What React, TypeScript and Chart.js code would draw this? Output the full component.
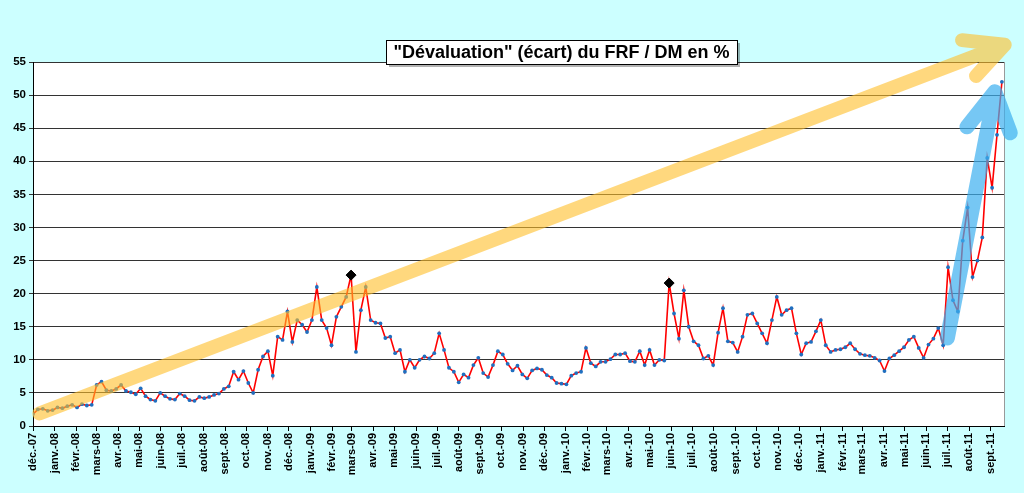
import React, { useEffect, useRef } from 'react';
import { Chart, registerables } from 'chart.js';

Chart.register(...registerables);

// axe des dates : un repère par mois, à partir du 1er décembre 2007
const monthLabels = [
    'déc.-07',
    'janv.-08', 'févr.-08', 'mars-08', 'avr.-08', 'mai-08', 'juin-08',
    'juil.-08', 'août-08', 'sept.-08', 'oct.-08', 'nov.-08', 'déc.-08',
    'janv.-09', 'févr.-09', 'mars-09', 'avr.-09', 'mai-09', 'juin-09',
    'juil.-09', 'août-09', 'sept.-09', 'oct.-09', 'nov.-09', 'déc.-09',
    'janv.-10', 'févr.-10', 'mars-10', 'avr.-10', 'mai-10', 'juin-10',
    'juil.-10', 'août-10', 'sept.-10', 'oct.-10', 'nov.-10', 'déc.-10',
    'janv.-11', 'févr.-11', 'mars-11', 'avr.-11', 'mai-11', 'juin-11',
    'juil.-11', 'août-11', 'sept.-11',
];

const START = Date.UTC(2007, 11, 1);
const DAY = 86400000;
const monthTicks = monthLabels.map((_, i) => (Date.UTC(2007, 11 + i, 1) - START) / DAY);
const lastDay = 1389;

// écart hebdomadaire en %, une valeur par semaine depuis début décembre 2007
const weekDays = 7;
const devaluation = [
    1.8, 2.5, 2.6, 2.3, 2.4, 2.8, 2.7, 3.0, 3.2, 2.8,
    3.3, 3.1, 3.2, 6.2, 6.7, 5.4, 5.3, 5.6, 6.2, 5.3,
    5.1, 4.8, 5.7, 4.5, 4.0, 3.8, 5.0, 4.5, 4.1, 4.0,
    4.9, 4.5, 3.9, 3.8, 4.4, 4.2, 4.4, 4.7, 4.9, 5.6,
    6.0, 8.2, 7.0, 8.3, 6.5, 5.0, 8.5, 10.5, 11.3, 7.6,
    13.5, 13.0, 17.3, 12.7, 16.0, 15.3, 14.2, 16.0, 21.0, 16.0,
    14.8, 12.2, 16.5, 18.0, 19.5, 22.8, 11.2, 17.5, 21.0, 16.0,
    15.6, 15.5, 13.3, 13.5, 11.0, 11.5, 8.2, 10.0, 8.8, 10.0,
    10.5, 10.2, 11.0, 14.0, 11.5, 8.8, 8.2, 6.6, 7.8, 7.3,
    9.2, 10.3, 8.0, 7.4, 9.2, 11.3, 10.8, 9.4, 8.4, 9.1,
    7.8, 7.2, 8.4, 8.7, 8.5, 7.7, 7.3, 6.5, 6.4, 6.3,
    7.6, 8.0, 8.2, 11.8, 9.5, 9.0, 9.7, 9.7, 10.1, 10.8,
    10.8, 11.0, 9.8, 9.7, 11.3, 9.2, 11.5, 9.2, 10.0, 9.9,
    21.6, 17.0, 13.2, 20.5, 15.0, 12.8, 12.2, 10.2, 10.6, 9.2,
    14.1, 17.8, 12.8, 12.6, 11.2, 13.5, 16.8, 17.0, 15.5, 14.0,
    12.5, 16.0, 19.5, 16.8, 17.5, 17.8, 14.0, 10.8, 12.5, 12.7,
    14.3, 16.0, 12.2, 11.2, 11.5, 11.6, 11.9, 12.5, 11.6, 10.9,
    10.7, 10.6, 10.3, 9.9, 8.3, 10.2, 10.7, 11.3, 11.9, 13.0,
    13.5, 11.8, 10.3, 12.3, 13.2, 14.8, 12.2, 24.0, 19.0, 17.3,
    28.0, 33.0, 22.5, 25.0, 28.5, 40.5, 36.0, 44.0, 52.0,
];

// semaines des deux pics marqués d'un losange noir
const peakWeeks = [65, 130];

const yMax = 55;
const yStep = 5;

// flèches de tendance en coordonnées des données : [jour, valeur]
const yellowArrow = { from: [9, 1.9], tip: [1390, 57.6], arms: [[1329, 58.3], [1349, 52.9]] };
const blueArrow = { from: [1308, 13.3], tip: [1376, 50.5], arms: [[1336, 45.2], [1398, 44.3]] };

const FONT = "'Liberation Sans', Arial, sans-serif";

const plotBackground = {
    id: 'plotBackground',
    beforeDraw(chart: Chart) {
        const { ctx, chartArea } = chart;
        ctx.save();
        ctx.fillStyle = '#ffffff';
        ctx.fillRect(chartArea.left, chartArea.top, chartArea.right - chartArea.left, chartArea.bottom - chartArea.top);
        ctx.restore();
    },
    afterDraw(chart: Chart) {
        const { ctx, chartArea } = chart;
        ctx.save();
        ctx.strokeStyle = '#999999';
        ctx.lineWidth = 1;
        ctx.beginPath();
        ctx.moveTo(chartArea.right + 0.5, chartArea.top);
        ctx.lineTo(chartArea.right + 0.5, chartArea.bottom);
        ctx.stroke();
        ctx.restore();
    },
};

const drawArrow = (chart: Chart, arrow: typeof yellowArrow, color: string, width: number) => {
    const { ctx } = chart;
    const x = chart.scales.x;
    const y = chart.scales.y;
    const p = (d: number[]) => [x.getPixelForValue(d[0]), y.getPixelForValue(d[1])];
    const a = p(arrow.from);
    const t = p(arrow.tip);
    const h1 = p(arrow.arms[0]);
    const h2 = p(arrow.arms[1]);
    ctx.save();
    ctx.strokeStyle = color;
    ctx.lineWidth = width;
    ctx.lineCap = 'round';
    ctx.lineJoin = 'round';
    ctx.beginPath();
    ctx.moveTo(a[0], a[1]);
    ctx.lineTo(t[0], t[1]);
    ctx.moveTo(h1[0], h1[1]);
    ctx.lineTo(t[0], t[1]);
    ctx.lineTo(h2[0], h2[1]);
    ctx.stroke();
    ctx.restore();
};

const overlay = {
    id: 'overlay',
    afterDraw(chart: Chart) {
        drawArrow(chart, yellowArrow, 'rgba(255, 190, 40, 0.6)', 14);
        drawArrow(chart, blueArrow, 'rgba(60, 175, 240, 0.7)', 15);

        // titre encadré avec ombre
        const { ctx } = chart;
        const bx = 386;
        const by = 40;
        const bw = 351;
        const bh = 24;
        ctx.save();
        ctx.fillStyle = 'rgba(0, 0, 0, 0.3)';
        ctx.fillRect(bx + 3, by + 3, bw, bh);
        ctx.fillStyle = '#ffffff';
        ctx.fillRect(bx, by, bw, bh);
        ctx.strokeStyle = '#000000';
        ctx.lineWidth = 1;
        ctx.strokeRect(bx + 0.5, by + 0.5, bw, bh);
        ctx.fillStyle = '#000000';
        ctx.font = `bold 18px ${FONT}`;
        ctx.textAlign = 'center';
        ctx.textBaseline = 'middle';
        ctx.fillText('"Dévaluation" (écart) du FRF / DM en %', bx + bw / 2, by + bh / 2 + 1);
        ctx.restore();
    },
};

const DevaluationChart = () => {
    const canvas = useRef<HTMLCanvasElement | null>(null);
    useEffect(() => {
        const item = canvas.current?.getContext('2d');
        const chart =
            item &&
            new Chart(item, {
                type: 'line',
                data: {
                    datasets: [
                        {
                            label: 'pics',
                            data: peakWeeks.map((w) => ({ x: w * weekDays, y: devaluation[w] })),
                            showLine: false,
                            pointStyle: 'rectRot',
                            pointRadius: 5,
                            pointBackgroundColor: '#000000',
                            pointBorderColor: '#000000',
                            order: 0,
                        },
                        {
                            label: 'écart',
                            data: devaluation.map((v, i) => ({ x: i * weekDays, y: v })),
                            borderColor: '#ff0000',
                            borderWidth: 1.6,
                            pointRadius: 1.9,
                            pointBackgroundColor: '#1f6fc0',
                            pointBorderColor: '#1f6fc0',
                            pointBorderWidth: 0,
                            tension: 0,
                            order: 1,
                        },
                    ],
                },
                options: {
                    animation: false,
                    responsive: false,
                    devicePixelRatio: 1,
                    layout: { padding: { top: 62, right: 20, left: 0, bottom: 0 } },
                    plugins: {
                        legend: { display: false },
                        title: { display: false },
                        tooltip: { enabled: false },
                    },
                    scales: {
                        x: {
                            type: 'linear',
                            min: 0,
                            max: lastDay,
                            afterBuildTicks: (scale: any) => {
                                scale.ticks = monthTicks.map((v) => ({ value: v }));
                            },
                            afterFit: (scale: any) => {
                                scale.height = 67;
                            },
                            ticks: {
                                autoSkip: false,
                                maxRotation: 90,
                                minRotation: 90,
                                padding: 2,
                                color: '#000000',
                                font: { family: FONT, size: 11, weight: 'bold' },
                                callback: (_v: any, i: number) => monthLabels[i],
                            },
                            grid: {
                                drawOnChartArea: false,
                                drawTicks: true,
                                tickLength: 5,
                                color: '#000000',
                            },
                            border: { display: true, color: '#000000', width: 1 },
                        },
                        y: {
                            min: 0,
                            max: yMax,
                            afterFit: (scale: any) => {
                                scale.width = 33;
                            },
                            ticks: {
                                stepSize: yStep,
                                padding: 3,
                                color: '#000000',
                                font: { family: FONT, size: 11.5, weight: 'bold' },
                            },
                            grid: { color: '#333333', lineWidth: 1, tickLength: 4 },
                            border: { display: true, color: '#000000', width: 1 },
                        },
                    },
                },
                plugins: [plotBackground, overlay],
            });
        return () => chart?.destroy();
    });
    return <canvas ref={canvas} width={1024} height={493} />;
};

export default function App() {
    return (
        <div style={{ position: 'absolute', left: 0, top: 0, width: 1024, height: 493, background: '#ccffff' }}>
            <DevaluationChart />
        </div>
    );
}
